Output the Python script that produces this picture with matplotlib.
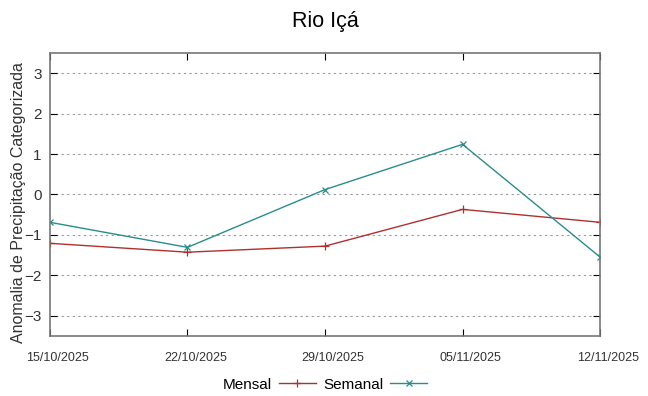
import matplotlib
matplotlib.use('Agg')
import matplotlib.pyplot as plt
import matplotlib.dates as mdates
import matplotlib.transforms as mtransforms
import pandas as pd

plt.rcParams['font.family'] = ['Liberation Sans', 'DejaVu Sans']

# Data
datas = ['2025-10-15', '2025-10-22', '2025-10-29', '2025-11-05', '2025-11-12']
mensal = [-1.21, -1.43, -1.28, -0.37, -0.69]
semanal = [-0.69, -1.31, 0.12, 1.24, -1.55]
yticks = [-3, -2, -1, 0, 1, 2, 3]

x = pd.to_datetime(datas)

fig, ax = plt.subplots(figsize=(6.48, 3.96), dpi=100)
fig.subplots_adjust(left=0.077, right=0.926, top=0.866, bottom=0.152)

ax.plot(x, mensal, color='#b03030', lw=1.0, marker='+', ms=6, mew=0.9, label='Mensal')
ax.plot(x, semanal, color='#2a8c8c', lw=1.0, marker='x', ms=4.5, mew=0.9, label='Semanal')

ax.set_xlim(x[0], x[-1])
ax.set_ylim(-3.5, 3.5)
ax.set_yticks(yticks)
ax.set_xticks(x)
ax.xaxis.set_major_formatter(mdates.DateFormatter('%d/%m/%Y'))
ax.tick_params(axis='x', labelsize=9, direction='in', top=True, length=5, pad=12, labelcolor='#333333')
ax.tick_params(axis='y', labelsize=11, direction='in', right=True, length=5, pad=6, labelcolor='#333333')
# shift date labels slightly right, like the original
shift = mtransforms.ScaledTranslation(8 / 100, 0, fig.dpi_scale_trans)
for lab in ax.get_xticklabels():
    lab.set_transform(lab.get_transform() + shift)
ax.grid(axis='y', linestyle=(0, (2, 3)), color='#999999', lw=0.8)
for s in ax.spines.values():
    s.set_color('#777777')
    s.set_linewidth(1.2)

ax.set_title('Rio Içá', fontsize=15.5, pad=19)
ax.set_ylabel('Anomalia de Precipitação Categorizada', fontsize=11.5, color='#333333')
ax.yaxis.set_label_coords(-0.044, 0.47)

ax.legend(loc='upper center', bbox_to_anchor=(0.5, -0.1), ncol=2, frameon=False,
          markerfirst=False, fontsize=11, handlelength=2.4, columnspacing=0.5,
          handletextpad=0.45)

fig.savefig('out.png')
